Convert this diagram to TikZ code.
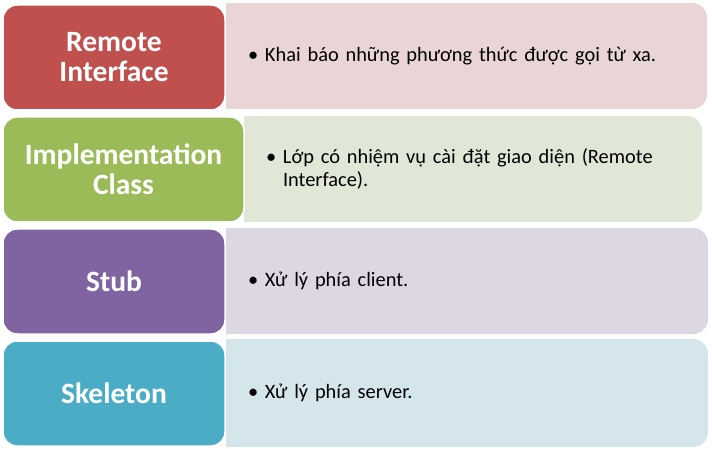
\documentclass[tikz,border=0pt]{standalone}
\usepackage{fontspec}
\setmainfont{Carlito}
\usetikzlibrary{backgrounds}
\definecolor{cRed}{HTML}{C0504D}
\definecolor{cGreen}{HTML}{9BBB59}
\definecolor{cPurple}{HTML}{8064A2}
\definecolor{cTeal}{HTML}{4BACC6}
\definecolor{lRed}{HTML}{E9D5D5}
\definecolor{lGreen}{HTML}{E0E7D6}
\definecolor{lPurple}{HTML}{DDD7E4}
\definecolor{lTeal}{HTML}{D4E5EC}
\newcommand{\bulitem}[1]{\hangindent=17pt\hangafter=1\noindent\makebox[17pt][l]{•}#1\par}
\tikzset{
  leftbox/.style={draw=white, line width=1.5pt, rounded corners=14pt, inner sep=0pt,
    text=white, font=\fontsize{29.5}{30}\selectfont\bfseries, align=center},
  rightbox/.style={rounded corners=15pt, inner sep=0pt, draw=none},
  desc/.style={anchor=west, inner sep=0pt, text width=440pt,
    font=\fontsize{20.4}{22.5}\selectfont, text=black},
}
\begin{document}
\begin{tikzpicture}[x=1pt,y=-1pt]
\useasboundingbox (0,0) rectangle (712,449);
% right boxes
\node[rightbox, fill=lRed, minimum width=481pt, minimum height=106pt] (r1) at (466.5,56) {};
\node[rightbox, fill=lGreen, minimum width=458pt, minimum height=106pt] (r2) at (473,169) {};
\node[rightbox, fill=lPurple, minimum width=482pt, minimum height=106pt] (r3) at (467,281) {};
\node[rightbox, fill=lTeal, minimum width=482pt, minimum height=108pt] (r4) at (467,393) {};
\begin{scope}[on background layer]
\fill[white] (0,0) rectangle (712,449);
\fill[lRed] (r1.north west) rectangle (r1.south);
\fill[lGreen] (r2.north west) rectangle (r2.south);
\fill[lPurple] (r3.north west) rectangle (r3.south);
\fill[lTeal] (r4.north west) rectangle (r4.south);
\end{scope}
% left boxes
\node[leftbox, fill=cRed, minimum width=222pt, minimum height=105pt] (l1) at (114,57.5) {Remote\\Interface};
\node[leftbox, fill=cGreen, minimum width=241pt, minimum height=105pt] (l2) at (123.5,169.5) {Implementation\\Class};
\node[leftbox, fill=cPurple, minimum width=222pt, minimum height=105pt] (l3) at (114,281.5) {Stub};
\node[leftbox, fill=cTeal, minimum width=222pt, minimum height=105pt] (l4) at (114,393.5) {Skeleton};
% descriptions
\node[desc] (t1) at ([xshift=22pt]r1.west) {\raggedright\bulitem{Khai báo những phương thức được gọi từ xa.}};
\node[desc] (t2) at ([xshift=22pt]r2.west) {\raggedright\bulitem{Lớp có nhiệm vụ cài đặt giao diện (Remote\hfil\break Interface).}};
\node[desc] (t3) at ([xshift=22pt]r3.west) {\raggedright\bulitem{Xử lý phía client.}};
\node[desc] (t4) at ([xshift=22pt]r4.west) {\raggedright\bulitem{Xử lý phía server.}};
\end{tikzpicture}
\end{document}
